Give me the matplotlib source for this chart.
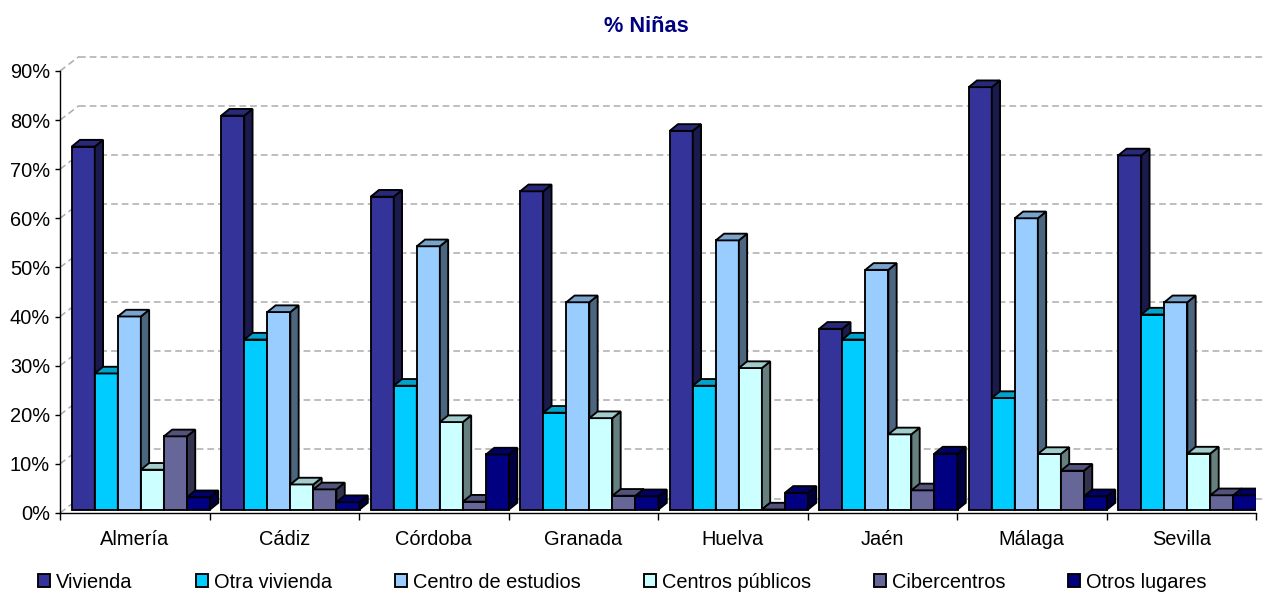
import numpy as np
import matplotlib
matplotlib.use('Agg')
import matplotlib.pyplot as plt
from matplotlib.patches import Polygon, Patch

plt.rcParams['font.family'] = ['Liberation Sans', 'DejaVu Sans']

# datos (% niñas por lugar de uso)
provincias = ['Almería', 'Cádiz', 'Córdoba', 'Granada', 'Huelva', 'Jaén', 'Málaga', 'Sevilla']
series = ['Vivienda', 'Otra vivienda', 'Centro de estudios', 'Centros públicos',
          'Cibercentros', 'Otros lugares']
vivienda = [73.9, 80.2, 63.7, 64.8, 77.1, 36.8, 86.0, 72.1]
otra_vivienda = [27.7, 34.6, 25.2, 19.7, 25.2, 34.6, 22.7, 39.7]
centro_estudios = [39.3, 40.2, 53.6, 42.2, 54.8, 48.8, 59.3, 42.2]
centros_publicos = [8.1, 5.1, 17.8, 18.6, 28.8, 15.3, 11.3, 11.4]
cibercentros = [14.9, 4.1, 1.6, 2.8, 0.0, 3.9, 7.9, 2.9]
otros_lugares = [2.5, 1.5, 11.2, 2.7, 3.4, 11.4, 2.7, 2.9]
y_ticks = list(range(0, 100, 10))

colores = ['#333399', '#00CCFF', '#99CCFF', '#CCFFFF', '#666699', '#000080']
valores = [vivienda, otra_vivienda, centro_estudios, centros_publicos, cibercentros, otros_lugares]


def shade(hex_color, f):
    r, g, b = matplotlib.colors.to_rgb(hex_color)
    return (r * f, g * f, b * f)


# layout in pixels
W, H = 1264, 594
AX_L, AX_R, AX_B, AX_T = 60, 1256, 513, 71
n = len(provincias)

fig = plt.figure(figsize=(W / 100, H / 100), dpi=100)
ax = fig.add_axes([AX_L / W, 1 - AX_B / H, (AX_R - AX_L) / W, (AX_B - AX_T) / H])
ax.set_xlim(0, n)
ax.set_ylim(0, 90)

px_x = n / (AX_R - AX_L)
px_y = 90 / (AX_B - AX_T)

# back wall gridlines + side wall diagonals
wx, wy = 19 * px_x, 14.5 * px_y
grid_kw = dict(color='#acacac', lw=1.1, dashes=(4.4, 2.6), zorder=1, clip_on=False)
for v in y_ticks:
    ax.plot([wx, n + 2 * wx], [v + wy, v + wy], **grid_kw)
    ax.plot([0, wx], [v, v + wy], **grid_kw)

# 3D-look bars
EDGE = 1.35
bw = 23.05 * px_x
ddx, ddy = 8.3 * px_x, 6.7 * px_y
for j, (vals, c) in enumerate(zip(valores, colores)):
    x = np.arange(n) + (11.7 + j * 23.05) * px_x
    bars = ax.bar(x, vals, width=bw, bottom=3.5 * px_y, align='edge', color=c,
                  edgecolor='black', linewidth=EDGE, zorder=3 + j)
    for b in bars:
        x0, y0 = b.get_x(), b.get_y()
        x1, y1 = x0 + b.get_width(), y0 + b.get_height()
        side = Polygon([(x1, y0), (x1 + ddx, y0 + ddy), (x1 + ddx, y1 + ddy), (x1, y1)],
                       closed=True, fc=shade(c, 0.5), ec='black', lw=EDGE, zorder=3 + j)
        top = Polygon([(x0, y1), (x1, y1), (x1 + ddx, y1 + ddy), (x0 + ddx, y1 + ddy)],
                      closed=True, fc=shade(c, 0.8), ec='black', lw=EDGE, zorder=3 + j)
        ax.add_patch(side)
        ax.add_patch(top)

# axes styling
for s in ['top', 'right']:
    ax.spines[s].set_visible(False)
for s in ['left', 'bottom']:
    ax.spines[s].set_linewidth(1.0)
ax.set_yticks(y_ticks)
ax.set_yticklabels([f'{v}%' for v in y_ticks])
ax.tick_params(axis='y', direction='out', length=3.6, width=1.0, pad=3.6, labelsize=14.4)
ax.set_xticks(range(n + 1))
ax.set_xticklabels([])
ax.tick_params(axis='x', which='major', direction='out', length=5, width=1.0)
ax.set_xticks(np.arange(n) + 0.5, minor=True)
ax.set_xticklabels(provincias, minor=True)
ax.tick_params(axis='x', which='minor', length=0, pad=12, labelsize=14.4)

fig.text(646.5 / W, 1 - 32.5 / H, '% Niñas', ha='center', va='baseline',
         fontsize=15.7, fontweight='bold', color='#000080')

handles = [Patch(facecolor=c, edgecolor='black', linewidth=EDGE) for c in colores]
fig.legend(handles, series, loc='center', bbox_to_anchor=(622.5 / W, 1 - 582 / H),
           ncol=6, frameon=False, fontsize=14.4, handlelength=0.6, handleheight=0.6,
           handletextpad=0.3, columnspacing=3.15, borderpad=0, borderaxespad=0)

fig.savefig('out.png', dpi=100)
